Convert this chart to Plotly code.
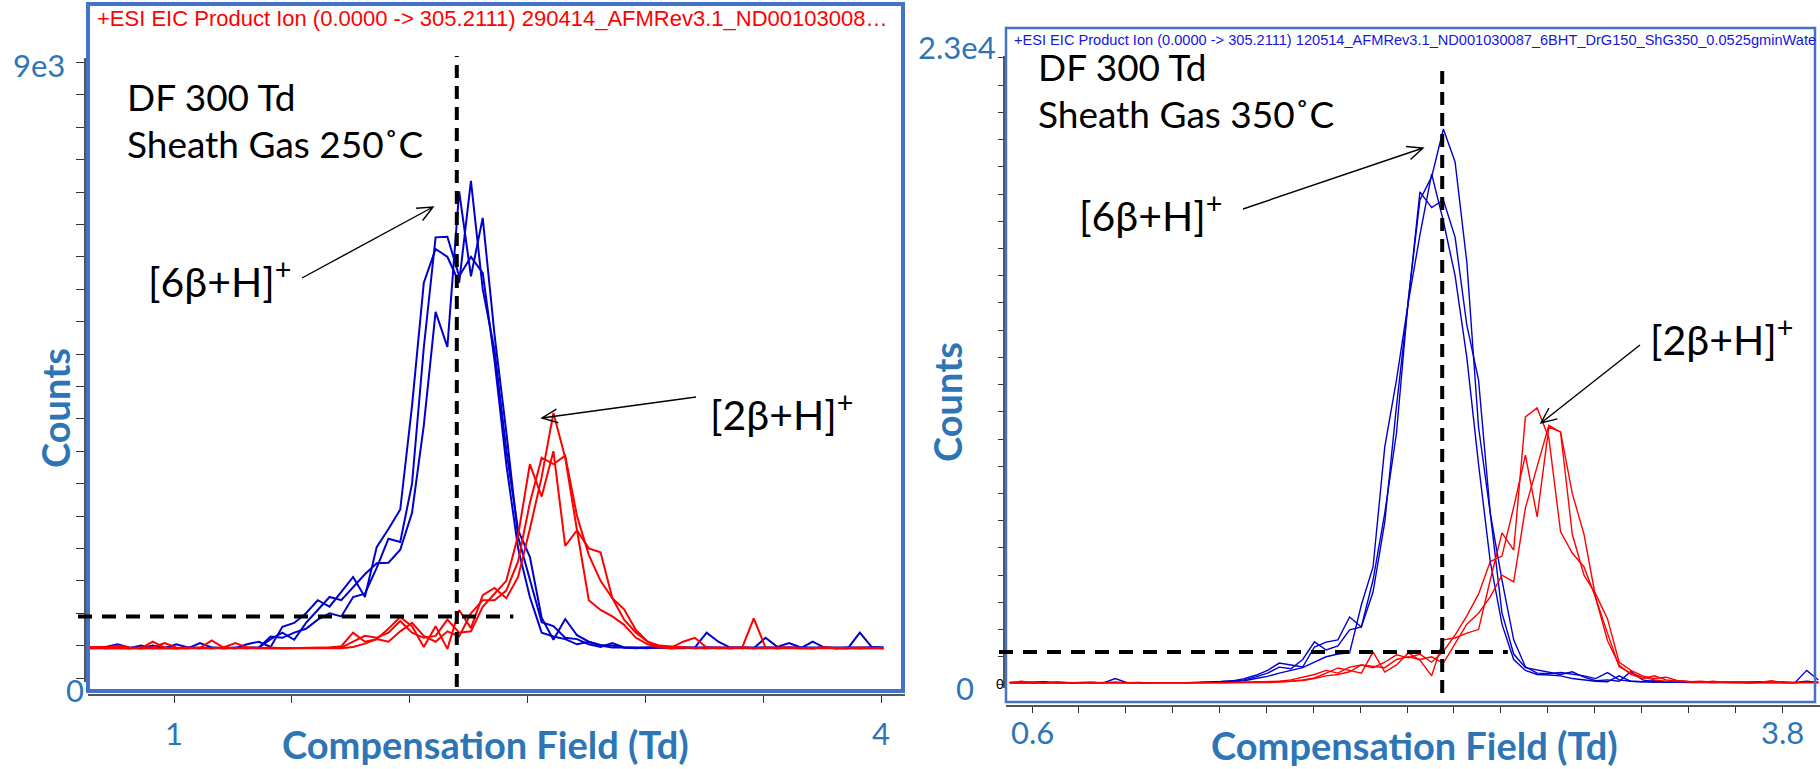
import math
import plotly.graph_objects as go

W, H = 1820, 769

# ---------------------------------------------------------------
# Compensation-field scan grids (Td)
# ---------------------------------------------------------------
left_cf = [round(0.61 + 0.05 * i, 3) for i in range(69)]
right_cf = [round(0.505 + 0.05 * i, 3) for i in range(70)]

# ---------------------------------------------------------------
# Left panel: DF 300 Td, sheath gas 250 C  (counts)
# ---------------------------------------------------------------
left_6b_run1 = [470, 470, 480, 520, 470, 460, 500, 460, 520, 470,
                460, 460, 470, 460, 520, 560, 480, 790, 850, 1000,
                1200, 1100, 1330, 1560, 1250, 2020, 2300, 2600, 4200, 6100,
                6620, 6500, 6100, 7670, 6000, 5060, 3520, 2280, 1870, 930,
                590, 910, 660, 560, 510, 500, 470, 470, 460, 480,
                460, 460, 470, 700, 560, 470, 460, 460, 470, 460,
                470, 460, 560, 470, 460, 460, 700, 480, 470]
left_6b_run2 = [460, 460, 470, 470, 460, 460, 470, 460, 470, 460,
                540, 470, 460, 470, 460, 470, 600, 700, 590, 850,
                1050, 1250, 1200, 1400, 1600, 1770, 1780, 1980, 2550, 3900,
                5650, 5110, 7510, 6200, 7100, 5300, 3800, 2180, 1500, 860,
                800, 620, 600, 520, 480, 540, 470, 460, 470, 460,
                460, 470, 460, 470, 460, 460, 470, 460, 620, 480,
                540, 470, 460, 470, 460, 470, 460, 470, 460]
left_6b_run3 = [470, 480, 460, 470, 460, 500, 460, 470, 460, 470,
                460, 470, 460, 460, 470, 470, 640, 620, 700, 760,
                900, 1000, 950, 1250, 1300, 1700, 2150, 2100, 3000, 5100,
                6800, 6810, 6200, 6500, 6250, 4900, 3300, 2000, 1250, 700,
                640, 600, 520, 560, 500, 470, 470, 470, 460, 470,
                460, 470, 460, 460, 470, 460, 460, 470, 460, 470,
                460, 460, 470, 460, 470, 460, 470, 460, 470]
left_2b_run1 = [470, 480, 470, 500, 470, 460, 560, 470, 460, 470,
                460, 580, 470, 540, 470, 460, 460, 460, 460, 470,
                460, 470, 490, 700, 560, 600, 760, 940, 800, 480,
                800, 450, 1050, 770, 1280, 1390, 1230, 1560, 2300, 3100,
                4090, 3400, 2280, 2000, 1940, 1230, 1060, 740, 560, 480,
                470, 560, 620, 470, 460, 470, 460, 920, 470, 460,
                470, 460, 460, 470, 460, 460, 470, 460, 460]
left_2b_run2 = [460, 460, 480, 470, 460, 470, 470, 540, 470, 460,
                470, 460, 470, 460, 470, 460, 470, 460, 460, 460,
                470, 460, 470, 560, 650, 620, 700, 880, 700, 620,
                650, 900, 700, 720, 1100, 1300, 1500, 2200, 3300, 2800,
                3500, 2040, 2280, 1200, 1050, 950, 820, 620, 520, 470,
                460, 470, 460, 460, 470, 460, 470, 460, 460, 470,
                460, 460, 460, 470, 460, 460, 460, 470, 460]
left_2b_run3 = [460, 470, 460, 460, 470, 460, 460, 460, 470, 460,
                460, 460, 460, 470, 460, 460, 460, 460, 470, 460,
                460, 460, 460, 480, 530, 600, 560, 720, 850, 650,
                560, 720, 640, 1000, 1200, 1200, 1350, 1800, 2700, 3400,
                3300, 3430, 2500, 1900, 1500, 1230, 900, 700, 560, 500,
                480, 470, 460, 460, 470, 460, 460, 470, 460, 460,
                470, 460, 460, 460, 470, 460, 460, 460, 460]

# ---------------------------------------------------------------
# Right panel: DF 300 Td, sheath gas 350 C  (counts)
# ---------------------------------------------------------------
right_6b_run1 = [50, 60, 50, 80, 50, 40, 60, 50, 50, 70,
                 50, 40, 50, 60, 50, 50, 60, 70, 90, 120,
                 150, 260, 400, 620, 560, 900, 1550, 1250, 1400, 1990,
                 2100, 3820, 6280, 9220, 14100, 17780, 18630, 20390, 19180, 15500,
                 9440, 6280, 3820, 1620, 630, 400, 380, 420, 350, 300,
                 200, 420, 150, 100, 80, 120, 60, 100, 80, 60,
                 80, 60, 70, 50, 60, 50, 60, 50, 500, 150]
right_6b_run2 = [60, 50, 60, 40, 60, 50, 50, 70, 40, 200,
                 50, 60, 40, 50, 60, 50, 50, 60, 80, 100,
                 200, 320, 500, 770, 700, 625, 1360, 1540, 1620, 2460,
                 2090, 3380, 5950, 10210, 14030, 18080, 17500, 17780, 16420, 13190,
                 11170, 6280, 2610, 1100, 600, 520, 450, 350, 450, 250,
                 120, 150, 100, 450, 150, 80, 60, 80, 60, 70,
                 50, 60, 50, 60, 80, 60, 50, 60, 100, 60]
right_6b_run3 = [40, 40, 50, 50, 40, 60, 50, 40, 60, 50,
                 40, 50, 60, 40, 50, 60, 40, 50, 60, 80,
                 120, 200, 280, 400, 500, 600, 800, 1000, 1100, 1140,
                 2900, 4300, 8710, 11170, 14000, 16500, 18740, 17000, 15000, 12000,
                 8080, 4500, 2200, 900, 500, 350, 330, 300, 200, 150,
                 100, 80, 300, 100, 80, 60, 80, 60, 50, 60,
                 50, 60, 50, 40, 50, 60, 50, 40, 80, 60]
right_2b_run1 = [60, 60, 50, 40, 80, 50, 50, 40, 60, 50,
                 60, 40, 50, 60, 50, 40, 50, 60, 40, 50,
                 60, 50, 60, 80, 100, 150, 220, 400, 590, 500,
                 400, 1180, 440, 700, 1140, 880, 300, 1620, 1690, 1870,
                 2000, 3820, 5550, 4920, 9810, 10140, 9040, 5590, 4810, 4300,
                 3160, 1870, 630, 400, 250, 150, 100, 120, 80, 100,
                 60, 80, 60, 50, 60, 120, 50, 60, 50, 60]
right_2b_run2 = [50, 100, 50, 60, 50, 40, 50, 60, 50, 40,
                 50, 60, 50, 40, 50, 60, 50, 40, 50, 50,
                 60, 60, 80, 100, 150, 250, 350, 500, 400, 620,
                 700, 600, 800, 1070, 960, 1100, 800, 1200, 1800, 2500,
                 3300, 4500, 4700, 6500, 8410, 6140, 9440, 9260, 7000, 5500,
                 3160, 1600, 700, 350, 200, 300, 150, 100, 80, 60,
                 100, 60, 50, 60, 50, 60, 80, 50, 60, 50]
right_2b_run3 = [40, 40, 60, 50, 40, 50, 60, 50, 40, 50,
                 60, 50, 40, 50, 60, 40, 50, 40, 60, 50,
                 40, 50, 50, 70, 90, 130, 200, 300, 350, 450,
                 700, 650, 600, 900, 1000, 900, 1000, 770, 1500, 2200,
                 2600, 3200, 4000, 3750, 6470, 8000, 9500, 9250, 5500, 4000,
                 3300, 2400, 800, 500, 300, 200, 250, 120, 80, 60,
                 80, 50, 60, 40, 50, 60, 40, 50, 60, 40]

# Reference lines (apex of the [6b+H]+ peak and the onset level)
left_apex_cf, left_onset_counts, left_onset_end_cf = 2.20, 950, 2.44
right_apex_cf, right_onset_counts, right_onset_end_cf = 2.35, 1180, 2.63

# Axis end labels
left_x_labels = [(1, "1"), (4, "4")]
right_x_labels = [(0.6, "0.6"), (3.8, "3.8")]
left_y_labels = [(9000, "9e3"), (0, "0")]
right_y_labels = [(23000, "2.3e4"), (0, "0")]

BLUE = "#0000CD"
RED = "#FF0000"
STEEL = "#2E75B6"
FRAME = "#4472C4"
AXIS = "#555555"
CAL = "Lato, 'Open Sans', sans-serif"
ARIAL = "'Liberation Sans', Arial, sans-serif"


def fx(px):
    return px / W


def fy(py):
    return 1 - py / H


# pixel geometry of both panels
L_X0, L_X1, L_XPX, L_XSLOPE = 88, 905, 174, 235.67      # cf=1 at px 174
L_Y0, L_Y1, L_YPX, L_YSLOPE = 58, 682, 678, 500 / 32.4  # counts=0 at px 678
R_X0, R_X1, R_XPX, R_XSLOPE = 1006, 1820, 1032, 234.4   # cf=0.6 at px 1032
R_Y0, R_Y1, R_YPX, R_YSLOPE = 56, 688, 684, 1000 / 27.22


def lx(v):
    return L_XPX + (v - 1.0) * L_XSLOPE


def rx(v):
    return R_XPX + (v - 0.6) * R_XSLOPE


fig = go.Figure()

for ys in (left_6b_run1, left_6b_run2, left_6b_run3):
    fig.add_trace(go.Scatter(x=left_cf, y=ys, mode="lines", xaxis="x", yaxis="y",
                             line=dict(color=BLUE, width=2), showlegend=False))
for ys in (left_2b_run1, left_2b_run2, left_2b_run3):
    fig.add_trace(go.Scatter(x=left_cf, y=ys, mode="lines", xaxis="x", yaxis="y",
                             line=dict(color=RED, width=2), showlegend=False))
for ys in (right_6b_run1, right_6b_run2, right_6b_run3):
    fig.add_trace(go.Scatter(x=right_cf, y=ys, mode="lines", xaxis="x2", yaxis="y2",
                             line=dict(color=BLUE, width=1.4), showlegend=False))
for ys in (right_2b_run1, right_2b_run2, right_2b_run3):
    fig.add_trace(go.Scatter(x=right_cf, y=ys, mode="lines", xaxis="x2", yaxis="y2",
                             line=dict(color=RED, width=1.4), showlegend=False))

axis_common = dict(showgrid=False, zeroline=False, showline=True, linecolor=AXIS,
                   linewidth=1.5, ticks="outside", tickcolor="#333333", tickwidth=1.3,
                   showticklabels=False, fixedrange=True)

fig.update_layout(
    width=W, height=H, margin=dict(l=0, r=0, t=0, b=0),
    paper_bgcolor="white", plot_bgcolor="white",
    xaxis=dict(domain=[fx(L_X0), fx(L_X1)],
               range=[1 + (L_X0 - L_XPX) / L_XSLOPE, 1 + (L_X1 - L_XPX) / L_XSLOPE],
               anchor="free", position=fy(695), tick0=1, dtick=0.5, ticklen=7,
               **axis_common),
    yaxis=dict(domain=[fy(L_Y1), fy(L_Y0)],
               range=[(L_YPX - L_Y1) * L_YSLOPE, (L_YPX - L_Y0) * L_YSLOPE],
               anchor="free", position=fx(85), tick0=0, dtick=500, ticklen=8,
               **axis_common),
    xaxis2=dict(domain=[fx(R_X0), fx(R_X1)],
                range=[0.6 + (R_X0 - R_XPX) / R_XSLOPE, 0.6 + (R_X1 - R_XPX) / R_XSLOPE],
                anchor="free", position=fy(706), tick0=0.6, dtick=0.2, ticklen=6,
                **axis_common),
    yaxis2=dict(domain=[fy(R_Y1), fy(R_Y0)],
                range=[(R_YPX - R_Y1) * R_YSLOPE, (R_YPX - R_Y0) * R_YSLOPE],
                anchor="free", position=fx(1004), tick0=0, dtick=1000, ticklen=5,
                **axis_common),
)

shapes = []
# panel frames
shapes.append(dict(type="rect", xref="paper", yref="paper", x0=fx(88), x1=fx(903),
                   y0=fy(691), y1=fy(4), line=dict(color=FRAME, width=4)))
shapes.append(dict(type="rect", xref="paper", yref="paper", x0=fx(1006), x1=fx(1815),
                   y0=fy(702), y1=fy(28), line=dict(color=FRAME, width=2.5)))

# dashed reference lines
DASH = dict(color="black", width=4, dash="13px,8px")
shapes.append(dict(type="line", xref="x", yref="paper", x0=left_apex_cf, x1=left_apex_cf,
                   y0=fy(687), y1=fy(56), line=DASH))
shapes.append(dict(type="line", xref="paper", yref="y", x0=fx(78), x1=fx(lx(left_onset_end_cf)),
                   y0=left_onset_counts, y1=left_onset_counts,
                   line=dict(color="black", width=4, dash="14px,10px")))
shapes.append(dict(type="line", xref="x2", yref="paper", x0=right_apex_cf, x1=right_apex_cf,
                   y0=fy(693), y1=fy(63), line=DASH))
shapes.append(dict(type="line", xref="paper", yref="y2", x0=fx(999), x1=fx(rx(right_onset_end_cf)),
                   y0=right_onset_counts, y1=right_onset_counts,
                   line=dict(color="black", width=4, dash="14px,10px")))


def arrow(tail, tip, head=17, spread=24):
    (x0, y0), (x1, y1) = tail, tip
    a = math.atan2(y1 - y0, x1 - x0)
    r = math.radians(spread)
    hx1, hy1 = x1 - head * math.cos(a - r), y1 - head * math.sin(a - r)
    hx2, hy2 = x1 - head * math.cos(a + r), y1 - head * math.sin(a + r)
    path = (f"M{fx(x0)},{fy(y0)} L{fx(x1)},{fy(y1)} "
            f"M{fx(hx1)},{fy(hy1)} L{fx(x1)},{fy(y1)} L{fx(hx2)},{fy(hy2)}")
    return dict(type="path", xref="paper", yref="paper", path=path,
                line=dict(color="black", width=1.4))


shapes.append(arrow((302, 278), (433, 207)))
shapes.append(arrow((696, 397), (542, 418)))
shapes.append(arrow((1243, 209), (1423, 148)))
shapes.append(arrow((1640, 345), (1541, 423)))

ann = []


def label(text, x, y, size, color="black", xanchor="left", yanchor="middle",
          family=CAL, weight="normal", xref="paper", yref="paper", angle=0, pad=1):
    ann.append(dict(text=text, x=x, y=y, xref=xref, yref=yref, showarrow=False,
                    xanchor=xanchor, yanchor=yanchor, textangle=angle, borderpad=pad,
                    font=dict(family=family, size=size, color=color, weight=weight)))


# instrument trace headers
label("+ESI EIC Product Ion (0.0000 -> 305.2111) 290414_AFMRev3.1_ND00103008…",
      fx(95), fy(18), 22, color=RED, family=ARIAL)
label("+ESI EIC Product Ion (0.0000 -> 305.2111) 120514_AFMRev3.1_ND001030087_6BHT_DrG150_ShG350_0.0525gminWate",
      fx(1013), fy(40), 14.6, color="#1414E6", family=ARIAL, pad=0)

# conditions
label("DF 300 Td", fx(125), fy(97), 37)
label("Sheath Gas 250˚C", fx(125), fy(143), 37)
label("DF 300 Td", fx(1036), fy(67), 37)
label("Sheath Gas 350˚C", fx(1036), fy(113), 37)

# ion labels
label("[6β+H]<sup>+</sup>", fx(293), fy(279), 41, xanchor="right")
label("[2β+H]<sup>+</sup>", fx(708), fy(412), 41)
label("[6β+H]<sup>+</sup>", fx(1224), fy(213), 41, xanchor="right")
label("[2β+H]<sup>+</sup>", fx(1648), fy(337), 41)

# axis titles
label("Compensation Field (Td)", fx(485), fy(744), 38, color=STEEL, xanchor="center",
      weight="bold")
label("Compensation Field (Td)", fx(1414), fy(745), 38, color=STEEL, xanchor="center",
      weight="bold")
label("Counts", fx(55), fy(408), 38, color=STEEL, xanchor="center", weight="bold", angle=-90)
label("Counts", fx(947), fy(402), 38, color=STEEL, xanchor="center", weight="bold", angle=-90)

# axis end labels
for v, t in left_x_labels:
    label(t, v, fy(733), 31, color=STEEL, xanchor="center", xref="x")
for v, t in right_x_labels:
    label(t, v, fy(732), 31, color=STEEL, xanchor="center", xref="x2")
label(left_y_labels[0][1], fx(67), fy(65), 31, color=STEEL, xanchor="right")
label(left_y_labels[1][1], fx(75), fy(690), 31, color=STEEL, xanchor="center")
label(right_y_labels[0][1], fx(997), fy(47), 31, color=STEEL, xanchor="right", pad=0)
label(right_y_labels[1][1], fx(965), fy(688), 31, color=STEEL, xanchor="center")
label("0", 0, fy(684), 14, family=ARIAL, xanchor="right", xref="x2 domain")

fig.update_layout(shapes=shapes, annotations=ann)
fig.write_html("out.html")
